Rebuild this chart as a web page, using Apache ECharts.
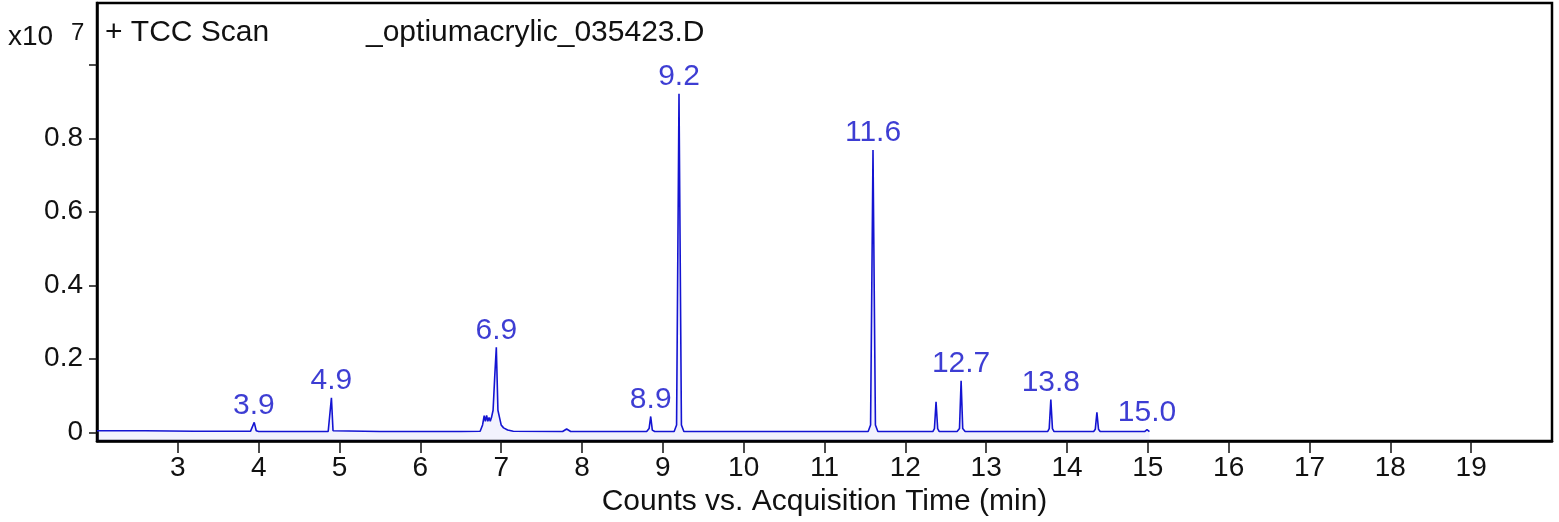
<!DOCTYPE html>
<html>
<head>
<meta charset="utf-8">
<script src="https://cdn.jsdelivr.net/npm/echarts@6/dist/echarts.min.js"></script>
<style>
  html, body { margin: 0; padding: 0; background: #fff; overflow: hidden; }
  #main { width: 1559px; height: 522px; }
</style>
</head>
<body>
<div id="main"></div>
<script>
// TIC trace, counts in units of 1e7
var times  = [2.0, 2.6, 3.2, 3.9, 3.92, 3.945, 3.97, 4.0, 4.5, 4.86, 4.88, 4.9, 4.92, 4.94, 5.5, 6.0, 6.5,
              6.74, 6.77, 6.79, 6.805, 6.82, 6.835, 6.85, 6.865, 6.88, 6.9, 6.92, 6.94, 6.96, 6.98, 7.0, 7.03, 7.08, 7.15,
              7.76, 7.81, 7.86, 8.3, 8.8, 8.83, 8.85, 8.87, 8.9, 9.14, 9.17, 9.2, 9.23, 9.26, 10.0, 11.0,
              11.54, 11.57, 11.6, 11.63, 11.66, 12.0, 12.34, 12.36, 12.38, 12.4, 12.42, 12.64, 12.67, 12.69, 12.71, 12.74,
              13.2, 13.76, 13.78, 13.8, 13.82, 13.84, 14.33, 14.35, 14.37, 14.39, 14.41, 14.7, 14.96, 14.99, 15.02];
var counts = [0.004, 0.004, 0.003, 0.003, 0.004, 0.027, 0.004, 0.002, 0.002, 0.002, 0.004, 0.094, 0.004, 0.002, 0.002, 0.002, 0.002,
              0.003, 0.02, 0.045, 0.03, 0.046, 0.03, 0.04, 0.03, 0.04, 0.06, 0.15, 0.231, 0.06, 0.04, 0.02, 0.012, 0.006, 0.003,
              0.002, 0.009, 0.002, 0.002, 0.002, 0.01, 0.043, 0.006, 0.002, 0.002, 0.02, 0.921, 0.02, 0.002, 0.002, 0.002,
              0.002, 0.02, 0.768, 0.02, 0.002, 0.002, 0.002, 0.01, 0.083, 0.01, 0.002, 0.002, 0.01, 0.14, 0.01, 0.002,
              0.002, 0.002, 0.01, 0.089, 0.01, 0.002, 0.002, 0.008, 0.054, 0.008, 0.002, 0.002, 0.002, 0.007, 0.002];

// labelled peaks
var peakTimes  = [3.94, 4.9, 6.94, 8.85, 9.2, 11.6, 12.69, 13.8, 14.99];
var peakTops   = [0.027, 0.094, 0.231, 0.043, 0.921, 0.768, 0.14, 0.089, 0.007];
var peakLabels = ['3.9', '4.9', '6.9', '8.9', '9.2', '11.6', '12.7', '13.8', '15.0'];

var yTicks  = [0, 0.2, 0.4, 0.6, 0.8, 1.0];
var yLabels = [0, 0.2, 0.4, 0.6, 0.8];

var traceData = times.map(function (t, i) { return [t, counts[i]]; });
var peakData = peakTimes.map(function (t, i) { return { value: [t, peakTops[i]], name: peakLabels[i] }; });

var blue = '#1414d2';
var font = 'Liberation Sans, Arial, sans-serif';

var myChart = echarts.init(document.getElementById('main'));
var option = {
    animation: false,
    grid: {
        left: 97, right: 7, top: 3, bottom: 75,
        show: true,
        borderColor: '#000',
        borderWidth: 2.5,
        backgroundColor: '#fff'
    },
    graphic: [
        {
            type: 'text', left: 105, top: 18,
            style: { text: '+ TCC Scan', font: '30px ' + font, fill: '#111' }
        },
        {
            type: 'text', left: 366, top: 18,
            style: { text: '_optiumacrylic_035423.D', font: '30px ' + font, fill: '#111' }
        },
        {
            type: 'text', left: 8, top: 23,
            style: { text: 'x10', font: '28px ' + font, fill: '#111' }
        },
        {
            type: 'text', left: 71, top: 21,
            style: { text: '7', font: '24px ' + font, fill: '#111' }
        }
    ],
    xAxis: {
        type: 'value',
        min: 2,
        max: 20,
        interval: 1,
        name: 'Counts vs. Acquisition Time (min)',
        nameLocation: 'middle',
        nameGap: 38,
        nameTextStyle: { fontSize: 30, color: '#111', fontFamily: font },
        axisLine: { show: true, onZero: false, lineStyle: { color: '#000', width: 2.5 } },
        axisTick: { show: true, length: 12, lineStyle: { color: '#111', width: 1.5 } },
        axisLabel: {
            showMinLabel: false, showMaxLabel: false,
            fontSize: 28, color: '#111', fontFamily: font, margin: 13
        },
        splitLine: { show: false }
    },
    yAxis: {
        type: 'value',
        min: -0.024,
        max: 1.168,
        axisLine: { show: true, lineStyle: { color: '#000', width: 2.5 } },
        axisTick: { show: true, length: 8, customValues: yTicks, lineStyle: { color: '#111', width: 1.5 } },
        axisLabel: {
            customValues: yLabels,
            fontSize: 28, color: '#111', fontFamily: font, margin: 14,
            formatter: function (v) { return v === 0 ? '0' : v.toFixed(1); }
        },
        splitLine: { show: false }
    },
    series: [
        {
            type: 'line',
            data: traceData,
            showSymbol: false,
            symbol: 'none',
            lineStyle: { color: blue, width: 1.6 },
            areaStyle: { color: 'rgba(20,20,210,0.08)', origin: 'start' },
            z: 2
        },
        {
            type: 'scatter',
            data: peakData,
            symbolSize: 0,
            label: {
                show: true,
                position: 'top',
                distance: 2,
                formatter: '{b}',
                fontSize: 30,
                color: '#0c0cc8',
                fontFamily: font
            },
            z: 3
        }
    ]
};
myChart.setOption(option);
</script>
</body>
</html>
